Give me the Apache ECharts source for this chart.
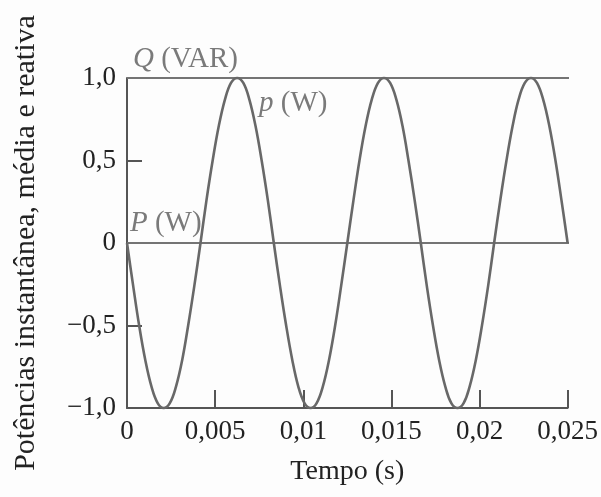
<!DOCTYPE html>
<html><head><meta charset="utf-8">
<script src="https://cdn.jsdelivr.net/npm/echarts@6/dist/echarts.min.js"></script>
<style>html,body{margin:0;padding:0;background:#fdfdfd}#c{width:601px;height:497px}</style>
</head><body><div id="c"></div>
<script>
const pTime = [0,0.00035,0.00069,0.00104,0.00139,0.00174,0.00208,0.00243,0.00278,0.00313,0.00347,0.00382,
  0.00417,0.00451,0.00486,0.00521,0.00556,0.0059,0.00625,0.0066,0.00694,0.00729,0.00764,0.00799,
  0.00833,0.00868,0.00903,0.00938,0.00972,0.01007,0.01042,0.01076,0.01111,0.01146,0.01181,0.01215,
  0.0125,0.01285,0.01319,0.01354,0.01389,0.01424,0.01458,0.01493,0.01528,0.01563,0.01597,0.01632,
  0.01667,0.01701,0.01736,0.01771,0.01806,0.0184,0.01875,0.0191,0.01944,0.01979,0.02014,0.02049,
  0.02083,0.02118,0.02153,0.02188,0.02222,0.02257,0.02292,0.02326,0.02361,0.02396,0.02431,0.02465,0.025];
const pValues = [0,-0.26,-0.5,-0.71,-0.87,-0.97,-1,-0.97,-0.87,-0.71,-0.5,-0.26,
  0,0.26,0.5,0.71,0.87,0.97,1,0.97,0.87,0.71,0.5,0.26,
  0,-0.26,-0.5,-0.71,-0.87,-0.97,-1,-0.97,-0.87,-0.71,-0.5,-0.26,
  0,0.26,0.5,0.71,0.87,0.97,1,0.97,0.87,0.71,0.5,0.26,
  0,-0.26,-0.5,-0.71,-0.87,-0.97,-1,-0.97,-0.87,-0.71,-0.5,-0.26,
  0,0.26,0.5,0.71,0.87,0.97,1,0.97,0.87,0.71,0.5,0.26,0];
const qTime = [0,0.0253];
const qValues = [1,1];
const PTime = [0,0.0252];
const PValues = [0,0];
const xTickLabels = ['0','0,005','0,01','0,015','0,02','0,025'];
const yTickLabels = ['\u22121,0','\u22120,5','0','0,5','1,0'];

const serif = 'Liberation Serif';
const axisCol = '#555';
const lineCol = '#747474';
const txtCol = '#222';
const chart = echarts.init(document.getElementById('c'));
chart.setOption({
  backgroundColor:'#fdfdfd',
  animation:false,
  grid:{left:127,right:30,top:78,bottom:89},
  xAxis:{type:'value',min:0,max:0.025,interval:0.005,
    name:'Tempo (s)',nameLocation:'middle',nameGap:50,
    nameTextStyle:{fontFamily:serif,fontSize:28,color:txtCol},
    axisLine:{onZero:false,lineStyle:{color:axisCol,width:2}},
    axisTick:{inside:true,length:18,lineStyle:{color:axisCol,width:2}},
    splitLine:{show:false},
    axisLabel:{margin:10,fontFamily:serif,fontSize:27,color:txtCol,
      formatter:v=>xTickLabels[Math.round(v/0.005)]}},
  yAxis:{type:'value',min:-1,max:1,interval:0.5,
    name:'Potências instantânea, média e reativa',nameLocation:'middle',nameGap:86,nameRotate:90,
    nameTextStyle:{fontFamily:serif,fontSize:30,color:txtCol},
    axisLine:{show:true,onZero:false,lineStyle:{color:axisCol,width:2}},
    axisTick:{show:true,inside:true,length:15,lineStyle:{color:axisCol,width:2}},
    splitLine:{show:false},
    axisLabel:{margin:11,fontFamily:serif,fontSize:27,color:txtCol,
      formatter:v=>yTickLabels[Math.round((v+1)/0.5)]}},
  series:[
    {type:'line',data:qTime.map((t,i)=>[t,qValues[i]]),showSymbol:false,clip:false,
      lineStyle:{color:lineCol,width:2},z:2},
    {type:'line',data:PTime.map((t,i)=>[t,PValues[i]]),showSymbol:false,clip:false,
      lineStyle:{color:lineCol,width:2},z:2},
    {type:'line',data:pTime.map((t,i)=>[t,pValues[i]]),showSymbol:false,smooth:0.4,clip:false,
      lineStyle:{color:'#686868',width:2.6},z:3}
  ],
  graphic:[
    {type:'text',left:133,top:45,style:{text:'{i|Q} (VAR)',fontFamily:serif,fontSize:29,fill:'#7a7a7a',
      rich:{i:{fontStyle:'italic',fontFamily:serif,fontSize:29,fill:'#7a7a7a'}}}},
    {type:'text',left:259,top:89,style:{text:'{i|p} (W)',fontFamily:serif,fontSize:29,fill:'#7a7a7a',
      rich:{i:{fontStyle:'italic',fontFamily:serif,fontSize:29,fill:'#7a7a7a'}}}},
    {type:'text',left:130,top:209,style:{text:'{i|P} (W)',fontFamily:serif,fontSize:29,fill:'#7a7a7a',
      rich:{i:{fontStyle:'italic',fontFamily:serif,fontSize:29,fill:'#7a7a7a'}}}}
  ]
});
</script></body></html>
